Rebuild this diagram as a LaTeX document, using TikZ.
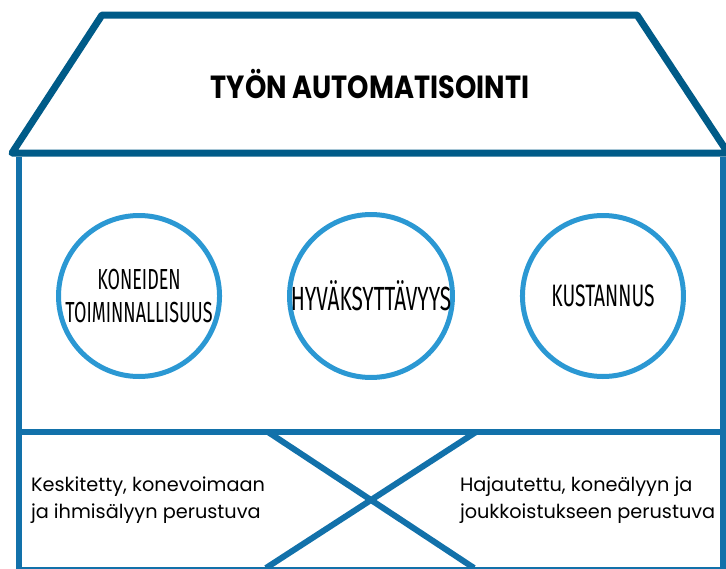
\documentclass[tikz,border=0pt]{standalone}
\usepackage{fontspec}
\setmainfont{Poppins}
\newfontfamily\titlefont[FakeStretch=0.85]{Poppins}
\newfontfamily\circfont[FakeStretch=0.62]{Fira Sans}
\usepackage{xcolor}
\usetikzlibrary{positioning}

\definecolor{roofblue}{HTML}{005B88}
\definecolor{wallblue}{HTML}{1271AA}
\definecolor{ringblue}{HTML}{2B98D3}

\begin{document}
\begin{tikzpicture}[x=1pt,y=-1pt,node distance=65pt,
  every node/.style={inner sep=0pt,outer sep=0pt}
]

\tikzstyle{ring}=[draw=ringblue,circle,line width=5pt,minimum size=161pt,
  align=center,font=\circfont\fontsize{31}{34}\selectfont,outer sep=2.5pt]
\tikzset{roof line/.style={draw=roofblue,line width=7pt,line join=round},
  wall line/.style={draw=wallblue,line width=6pt},
  base text/.style={anchor=west,align=left,font=\fontsize{19.3}{26.5}\selectfont}}

\useasboundingbox (0,0) rectangle (726,568);

% roof
\coordinate (r1) at (102,15);
\coordinate (r2) at (637,15);
\coordinate (r3) at (728,153);
\coordinate (r4) at (12,153);
\draw[roof line] (r4) -- (r1) -- (r2) -- (r3) -- cycle;
\node (title) at (370,84) {\titlefont\bfseries\fontsize{32}{34}\selectfont TYÖN AUTOMATISOINTI};

% walls
\coordinate (w1) at (19,157);
\coordinate (w2) at (19,570);
\coordinate (w3) at (723,157);
\coordinate (w4) at (723,570);
\draw[wall line] (w1) -- (w2) -- (w4) -- (w3);
\coordinate (m1) at (16,432);
\coordinate (m2) at (726,432);
\draw[wall line] (m1) -- (m2);

% circles
\node[ring, font=\circfont\fontsize{33.5}{36}\selectfont] (c2) at (371,296) {HYVÄKSYTTÄVYYS};
\node[ring, left=of c2, font=\circfont\fontsize{29}{33}\selectfont] (c1) {KONEIDEN\\TOIMINNALLISUUS};
\node[ring, right=of c2]   (c3) {KUSTANNUS};

% cross
\coordinate (x1) at (268,432);
\coordinate (x2) at (474,568);
\coordinate (x3) at (476,432);
\coordinate (x4) at (266,568);
\draw[wall line] (x1) -- (x2) (x3) -- (x4);

\node[base text] (left)  at (31,500)  {Keskitetty, konevoimaan\\ja ihmisälyyn perustuva};
\node[base text] (right) at (460,500) {Hajautettu, koneälyyn ja\\joukkoistukseen perustuva};

\end{tikzpicture}
\end{document}
